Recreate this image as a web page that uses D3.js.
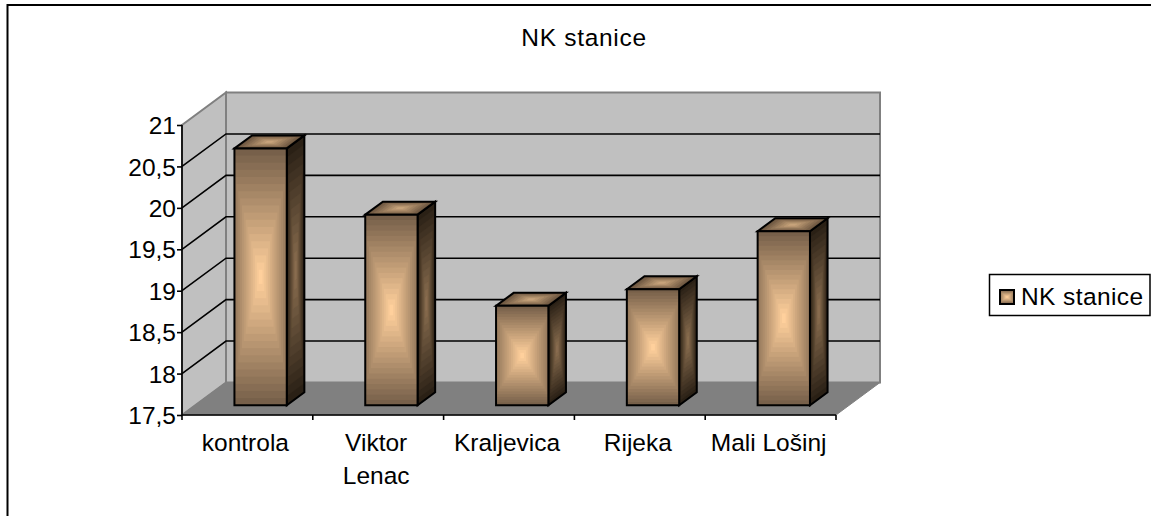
<!DOCTYPE html>
<html><head><meta charset="utf-8"><script src="https://cdn.jsdelivr.net/npm/d3@7"></script>
<style>html,body{margin:0;padding:0;background:#fff}svg{display:block}text{font-family:"Liberation Sans",Arial,sans-serif;fill:#000;font-size:24.5px}</style></head>
<body><div id="c"></div><script>
const categories=[["kontrola"],["Viktor","Lenac"],["Kraljevica"],["Rijeka"],["Mali Lošinj"]];
const values=[20.6,19.8,18.7,18.9,19.6];
const tickValues=[17.5,18,18.5,19,19.5,20,20.5,21];
const tickLabels=["17,5","18","18,5","19","19,5","20","20,5","21"];
const seriesName="NK stanice", title="NK stanice";
const frontRamp=d3.quantize(d3.interpolateRgb("#77604a","#ffd09c"),18);
const sideRamp=d3.quantize(d3.interpolateRgb("#2a2015","#8a6e50"),14);
const topRamp=d3.quantize(d3.interpolateRgb("#6a543e","#c8a47c"),8);
const W=1151,H=516;
const svg=d3.select("#c").append("svg").attr("width",W).attr("height",H);

const DX=44,DY=32.5;
const x=d3.scaleBand().domain(d3.range(categories.length)).range([182,836]).paddingInner(0.6).paddingOuter(0.3);
const y=d3.scaleLinear().domain([17.5,21]).range([415,125]);
const pts=a=>a.map(p=>p.join(",")).join(" ");
const poly=(g,a,o)=>{const e=g.append("polygon").attr("points",pts(a));Object.entries(o).forEach(([k,v])=>e.attr(k,v));return e;};
const outline=(g,c)=>poly(g,c,{fill:"none",stroke:"#000","stroke-width":2,"stroke-linejoin":"miter"});
// concentric banded fill: each band shrinks towards the centre of the face
const bands=(g,c,ramp)=>{
  const cx=d3.mean(c,p=>p[0]),cy=d3.mean(c,p=>p[1]);
  ramp.forEach((col,k)=>{const f=1-k/ramp.length;
    poly(g,c.map(p=>[cx+(p[0]-cx)*f,cy+(p[1]-cy)*f]),{fill:col,stroke:col,"stroke-width":0.4});});
  outline(g,c);
};
// front face: the first bands narrow only in height, so the sides stay lighter than top and bottom
const frontBands=(g,l,t,w,h,ramp,k0)=>{
  const n=ramp.length;
  ramp.forEach((col,k)=>{
    const iy=(k/n)*h/2, ix=(Math.max(0,k-k0)/(n-k0))*w/2;
    g.append("rect").attr("x",l+ix).attr("y",t+iy).attr("width",w-2*ix).attr("height",h-2*iy).attr("fill",col);
  });
  outline(g,[[l,t],[l+w,t],[l+w,t+h],[l,t+h]]);
};

svg.append("path").attr("d",`M7.5,${H+5}V5H${W+5}`).attr("fill","none").attr("stroke","#000").attr("stroke-width",2);
svg.append("text").attr("x",584).attr("y",46).attr("text-anchor","middle").style("letter-spacing","0.7px").text(title);

const x0=x.range()[0],x1=x.range()[1],yb=y(17.5),yt=y(21);
const g=svg.append("g");
poly(g,[[x0+DX,yt-DY],[x1+DX,yt-DY],[x1+DX,yb-DY],[x0+DX,yb-DY]],{fill:"#c0c0c0",stroke:"#808080","stroke-width":2});
poly(g,[[x0,yt],[x0+DX,yt-DY],[x0+DX,yb-DY],[x0,yb]],{fill:"#c0c0c0",stroke:"#808080","stroke-width":2});
poly(g,[[x0,yb],[x0+DX,yb-DY],[x1+DX,yb-DY],[x1,yb]],{fill:"#808080",stroke:"#808080","stroke-width":1});
tickValues.slice(1,-1).forEach(v=>{
  g.append("polyline").attr("points",pts([[x0,y(v)],[x0+DX,y(v)-DY],[x1+DX,y(v)-DY]])).attr("fill","none").attr("stroke","#000").attr("stroke-width",1.6);
});
const yAxis=d3.axisLeft(y).tickValues(tickValues).tickFormat((d,i)=>tickLabels[i]).tickSize(5).tickPadding(1);
const ya=svg.append("g").attr("transform",`translate(${x0},0)`).call(yAxis);
ya.select(".domain").attr("stroke","#000").attr("stroke-width",1.6).attr("d",`M0,${yt}V${yb}`);
ya.selectAll("line").attr("stroke","#000").attr("stroke-width",1.6);
ya.selectAll("text").style("font-size","24.5px").attr("dy","0.35em");
const xa=svg.append("g");
xa.append("line").attr("x1",x0).attr("x2",x1).attr("y1",yb).attr("y2",yb).attr("stroke","#000").attr("stroke-width",1.6);
d3.range(categories.length+1).forEach(i=>{const px=x0+(x1-x0)*i/categories.length;
  xa.append("line").attr("x1",px).attr("x2",px).attr("y1",yb).attr("y2",yb+5).attr("stroke","#000").attr("stroke-width",1.6);});
categories.forEach((c,i)=>{const t=xa.append("text").attr("text-anchor","middle");
  c.forEach((s,j)=>t.append("tspan").attr("x",x0+(x1-x0)*(i+.5)/categories.length-2).attr("y",451+j*33).text(s));});
const f0=0.3,f1=0.7;
const ox=DX*f0, oy=DY*f0, bdx=DX*(f1-f0), bdy=DY*(f1-f0);
values.forEach((v,i)=>{
  const l=x(i)+ox,w=x.bandwidth(),r=l+w,t=y(v)-oy,b=yb-oy;
  const bg=svg.append("g");
  bands(bg,[[r,t],[r+bdx,t-bdy],[r+bdx,b-bdy],[r,b]],sideRamp);
  bands(bg,[[l,t],[l+bdx,t-bdy],[r+bdx,t-bdy],[r,t]],topRamp);
  frontBands(bg,l,t,w,b-t,frontRamp,4);
});
svg.append("rect").attr("x",989.5).attr("y",274.5).attr("width",160.5).attr("height",41).attr("fill","#fff").attr("stroke","#000").attr("stroke-width",1.5);
frontBands(svg.append("g"),1000,290,14,14,frontRamp,4);
svg.append("text").attr("x",1021).attr("y",305).style("letter-spacing","0.4px").text(seriesName);
</script></body></html>
